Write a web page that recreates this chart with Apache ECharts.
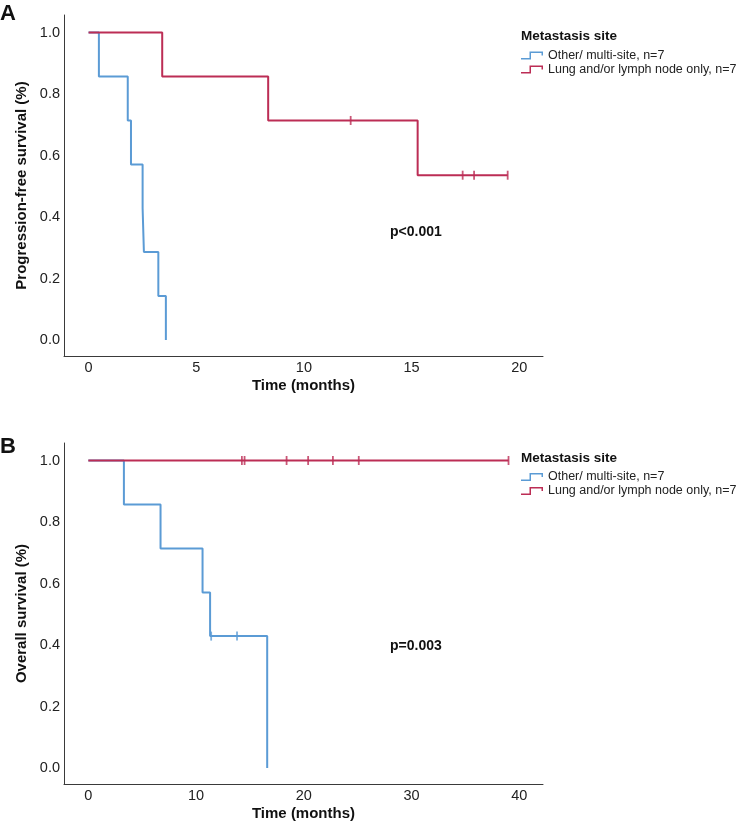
<!DOCTYPE html>
<html><head><meta charset="utf-8">
<script src="https://cdn.jsdelivr.net/npm/echarts@6/dist/echarts.min.js"></script>
<style>html,body{margin:0;padding:0;background:#fff}#c{width:738px;height:824px}</style>
</head><body><div id="c"></div>
<script>
// ---- Data ----
const seriesNames = ['Other/ multi-site, n=7', 'Lung and/or lymph node only, n=7'];
const legendTitle = 'Metastasis site';

// Panel A: Progression-free survival
const pfsOtherTime = [0, 0.48, 1.82, 1.97, 2.51, 2.57, 3.24, 3.59];
const pfsOtherSurv = [1, 0.857, 0.714, 0.571, 0.429, 0.286, 0.143, 0];
const pfsLungTime = [0, 3.42, 8.34, 15.28, 19.46];
const pfsLungSurv = [1, 0.857, 0.714, 0.536, 0.536];
const pfsLungCensorTime = [12.17, 17.37, 17.9, 19.46];
const pfsLungCensorSurv = [0.714, 0.536, 0.536, 0.536];
const pfsTicksX = [0, 5, 10, 15, 20];

// Panel B: Overall survival
const osOtherTime = [0, 3.3, 6.7, 10.6, 11.3, 16.6];
const osOtherSurv = [1, 0.857, 0.714, 0.571, 0.429, 0];
const osOtherCensorTime = [11.4, 13.8];
const osOtherCensorSurv = [0.429, 0.429];
const osLungTime = [0, 39.0];
const osLungSurv = [1, 1];
const osLungCensorTime = [14.25, 14.5, 18.4, 20.4, 22.7, 25.1, 39.0];
const osLungCensorSurv = [1, 1, 1, 1, 1, 1, 1];
const osTicksX = [0, 10, 20, 30, 40];

const ticksY = [0, 0.2, 0.4, 0.6, 0.8, 1.0];
const pValueA = 'p<0.001';
const pValueB = 'p=0.003';
const yTitleA = 'Progression-free survival (%)';
const yTitleB = 'Overall survival (%)';
const xTitle = 'Time (months)';

// ---- Styling ----
const BLUE = '#5B9BD5';
const RED = '#BC2D55';
const FONT = '"Liberation Sans", Arial, sans-serif';
const pairs = (xs, ys) => xs.map((x, i) => [x, ys[i]]);

function xAxis(gridIndex, min, max, ticks) {
  return {
    type: 'value', gridIndex, min, max,
    splitLine: {show: false},
    axisLine: {show: true, onZero: false, lineStyle: {color: '#3a3a3a', width: 1}},
    axisTick: {show: false},
    axisLabel: {customValues: ticks, color: '#222', fontSize: 14.5, fontFamily: FONT, margin: 4},
    name: xTitle, nameLocation: 'middle', nameGap: 22,
    nameTextStyle: {fontWeight: 'bold', fontSize: 15, color: '#111', fontFamily: FONT}
  };
}
function yAxis(gridIndex, name) {
  return {
    type: 'value', gridIndex, min: -0.052, max: 1.057,
    splitLine: {show: false},
    axisLine: {show: true, onZero: false, lineStyle: {color: '#3a3a3a', width: 1}},
    axisTick: {show: false},
    axisLabel: {customValues: ticksY, formatter: v => v.toFixed(1), color: '#222', fontSize: 14.5, fontFamily: FONT, margin: 4},
    name, nameLocation: 'middle', nameRotate: 90, nameGap: 33,
    nameTextStyle: {fontWeight: 'bold', fontSize: 15, color: '#111', fontFamily: FONT}
  };
}
function stepSeries(name, idx, data, color) {
  return {name, type: 'line', step: 'end', xAxisIndex: idx, yAxisIndex: idx, data,
    showSymbol: false, symbol: 'none', color, lineStyle: {color, width: 2}, animation: false, z: 2};
}
function censorSeries(idx, data, color) {
  return {name: 'censor', type: 'scatter', xAxisIndex: idx, yAxisIndex: idx, data,
    symbol: 'rect', symbolSize: [1.8, 9], itemStyle: {color}, animation: false, z: 3, silent: true};
}
const stepIcon = 'path://M0,6.5 L8.5,6.5 L8.5,0 L22,0 L22,4 L20.5,4 L20.5,1.5 L10,1.5 L10,8 L0,8 Z';
function legend(top) {
  return {
    data: seriesNames, orient: 'vertical', left: 521, top, itemGap: 1,
    icon: stepIcon, itemWidth: 22, itemHeight: 8, itemStyle: {borderWidth: 0},
    textStyle: {fontSize: 12.5, lineHeight: 12, color: '#222', fontFamily: FONT},
    selectedMode: false, padding: 0
  };
}
function label(text, left, y, size, weight) {
  return {type: 'text', left, top: y - size / 2 - 1,
    style: {text, font: weight + ' ' + size + 'px ' + FONT, fill: '#111'}};
}

const option = {
  backgroundColor: '#fff',
  animation: false,
  grid: [
    {left: 64, top: 15, width: 479, height: 341},
    {left: 64, top: 443, width: 479, height: 341}
  ],
  xAxis: [xAxis(0, -1.14, 21.1, pfsTicksX), xAxis(1, -2.26, 42.2, osTicksX)],
  yAxis: [yAxis(0, yTitleA), yAxis(1, yTitleB)],
  legend: [legend(49), legend(470.5)],
  series: [
    stepSeries(seriesNames[0], 0, pairs(pfsOtherTime, pfsOtherSurv), BLUE),
    stepSeries(seriesNames[1], 0, pairs(pfsLungTime, pfsLungSurv), RED),
    censorSeries(0, pairs(pfsLungCensorTime, pfsLungCensorSurv), RED),
    stepSeries(seriesNames[0], 1, pairs(osOtherTime, osOtherSurv), BLUE),
    stepSeries(seriesNames[1], 1, pairs(osLungTime, osLungSurv), RED),
    censorSeries(1, pairs(osOtherCensorTime, osOtherCensorSurv), BLUE),
    censorSeries(1, pairs(osLungCensorTime, osLungCensorSurv), RED)
  ],
  graphic: [
    label('A', 0, 15, 22, 'bold'),
    label('B', 0, 448, 22, 'bold'),
    label(legendTitle, 521, 37.5, 13.5, 'bold'),
    label(legendTitle, 521, 459, 13.5, 'bold'),
    label(pValueA, 390, 233, 14, 'bold'),
    label(pValueB, 390, 647, 14, 'bold')
  ]
};
const chart = echarts.init(document.getElementById('c'), null, {renderer: 'canvas'});
chart.setOption(option);
</script></body></html>
